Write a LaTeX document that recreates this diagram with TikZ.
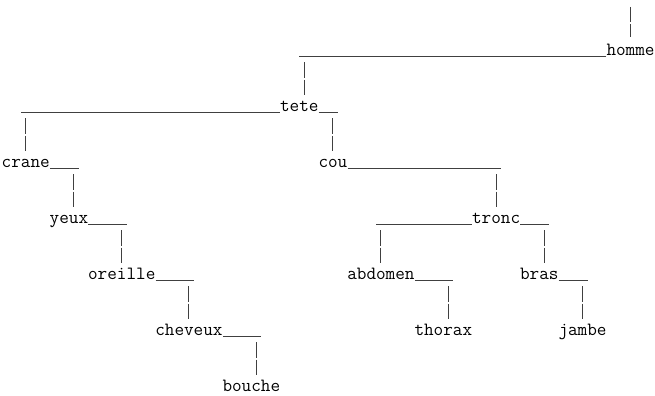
\documentclass[tikz,border=0pt]{standalone}
\usetikzlibrary{calc}
\tikzset{
  word/.style={
    anchor=base west, inner sep=0pt, text=black,
    font=\ttfamily\fontsize{18.66pt}{20pt}\selectfont,
  },
  rule/.style={line width=0.7pt, draw=black!75},
  bar/.style={
    line width=0.7pt, draw=black!75,
    shorten <=7pt, shorten >=16pt,
    dash pattern=on 15.5pt off 2pt,
  },
}

\begin{document}
\begin{tikzpicture}[x=9.6pt, y=-18.67pt]

  \useasboundingbox (-0.156,-0.946) rectangle (68.073,20.264);

  % Words (column, row)
  \node[word] (homme)   at (63,2)  {homme};
  \node[word] (tete)    at (29,5)  {tete};
  \node[word] (crane)   at (0,8)   {crane};
  \node[word] (cou)     at (33,8)  {cou};
  \node[word] (yeux)    at (5,11)  {yeux};
  \node[word] (tronc)   at (49,11) {tronc};
  \node[word] (oreille) at (9,14)  {oreille};
  \node[word] (abdomen) at (36,14) {abdomen};
  \node[word] (bras)    at (54,14) {bras};
  \node[word] (cheveux) at (16,17) {cheveux};
  \node[word] (thorax)  at (43,17) {thorax};
  \node[word] (jambe)   at (58,17) {jambe};
  \node[word] (bouche)  at (23,20) {bouche};

  % Underlines
  \draw[rule] ([yshift=-1.5pt]homme.base west) -- ++(-32,0);
  \draw[rule] ([yshift=-1.5pt]tete.base west) -- ++(-27,0);
  \draw[rule] ([yshift=-1.5pt]tete.base east) -- ++(2,0);
  \draw[rule] ([yshift=-1.5pt]crane.base east) -- ++(3,0);
  \draw[rule] ([yshift=-1.5pt]cou.base east) -- ++(16,0);
  \draw[rule] ([yshift=-1.5pt]yeux.base east) -- ++(4,0);
  \draw[rule] ([yshift=-1.5pt]tronc.base west) -- ++(-10,0);
  \draw[rule] ([yshift=-1.5pt]tronc.base east) -- ++(3,0);
  \draw[rule] ([yshift=-1.5pt]oreille.base east) -- ++(4,0);
  \draw[rule] ([yshift=-1.5pt]abdomen.base east) -- ++(4,0);
  \draw[rule] ([yshift=-1.5pt]bras.base east) -- ++(3,0);
  \draw[rule] ([yshift=-1.5pt]cheveux.base east) -- ++(4,0);

  % Bars
  \coordinate (root) at (65.5,-0.946);
  \draw[bar, shorten >=18pt] (root) -- (root |- homme.base);
  \draw[bar] (homme.base -| 31.5,0)   -- (tete.base -| 31.5,0);
  \draw[bar] (tete.base -| 2.5,0)     -- (crane.base -| 2.5,0);
  \draw[bar] (tete.base -| 34.5,0)    -- (cou.base -| 34.5,0);
  \draw[bar] (crane.base -| 7.5,0)    -- (yeux.base -| 7.5,0);
  \draw[bar] (cou.base -| 51.5,0)     -- (tronc.base -| 51.5,0);
  \draw[bar] (yeux.base -| 12.5,0)    -- (oreille.base -| 12.5,0);
  \draw[bar] (tronc.base -| 39.5,0)   -- (abdomen.base -| 39.5,0);
  \draw[bar] (tronc.base -| 56.5,0)   -- (bras.base -| 56.5,0);
  \draw[bar] (oreille.base -| 19.5,0) -- (cheveux.base -| 19.5,0);
  \draw[bar] (abdomen.base -| 46.5,0) -- (thorax.base -| 46.5,0);
  \draw[bar] (bras.base -| 60.5,0)    -- (jambe.base -| 60.5,0);
  \draw[bar] (cheveux.base -| 26.5,0) -- (bouche.base -| 26.5,0);

\end{tikzpicture}
\end{document}
